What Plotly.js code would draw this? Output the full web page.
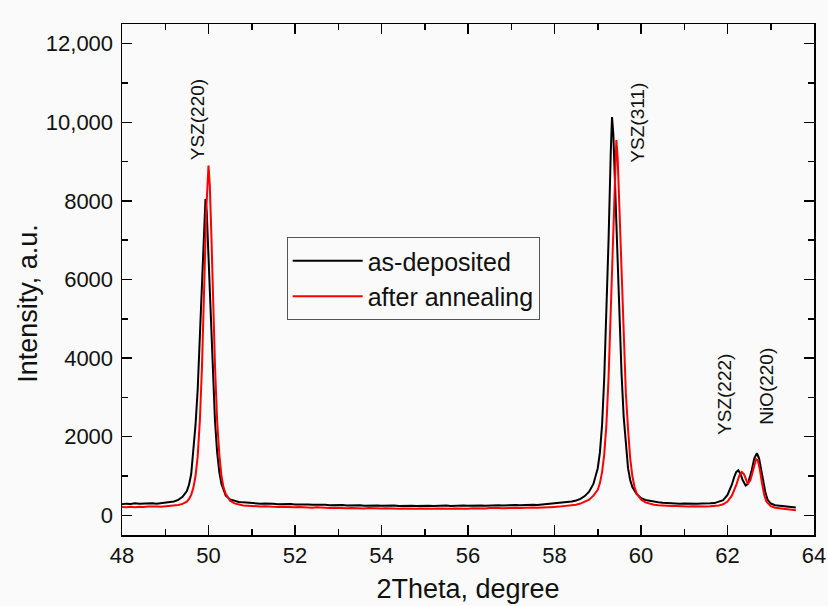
<!DOCTYPE html>
<html>
<head>
<meta charset="utf-8">
<script src="https://cdn.plot.ly/plotly-3.0.1.min.js"></script>
<style>html,body{margin:0;padding:0;background:#fafafa;overflow:hidden;}#chart{width:828px;height:606px;}</style>
</head>
<body>
<div id="chart"></div>
<script>
// as-deposited (black)
const depX = [48.0,48.1,48.2,48.3,48.4,48.5,48.6,48.7,48.8,48.9,49.0,49.1,49.2,49.3,49.4,49.5,49.55,49.6,49.65,49.7,49.75,49.8,49.85,49.9,49.93,49.96,50.0,50.05,50.1,50.15,50.2,50.25,50.3,50.35,50.4,50.5,50.6,50.7,
50.8,50.9,51.0,51.1,51.2,51.3,51.4,51.5,51.6,51.7,51.8,51.9,52.0,52.1,52.2,52.3,52.4,52.5,52.6,52.7,52.8,52.9,53.0,53.1,53.2,53.3,53.4,53.5,53.6,53.7,53.8,53.9,54.0,54.1,54.2,54.3,54.4,54.5,54.6,54.7,54.8,54.9,55.0,55.1,55.2,55.3,55.4,55.5,55.6,55.7,55.8,55.9,56.0,56.1,56.2,56.3,56.4,56.5,56.6,56.7,56.8,56.9,57.0,57.1,57.2,57.3,57.4,57.5,57.6,57.7,57.8,57.9,58.0,
58.1,58.2,58.3,58.4,58.5,58.6,58.7,58.8,58.9,59.0,59.05,59.1,59.15,59.2,59.25,59.3,59.33,59.36,59.4,59.45,59.5,59.55,59.6,59.65,59.7,59.75,59.8,59.9,60.0,60.1,60.2,60.3,60.4,60.5,60.6,60.7,60.8,60.9,61.0,61.1,61.2,61.3,61.4,61.5,61.6,61.7,61.8,61.9,62.0,62.05,62.1,62.15,62.2,62.25,62.3,62.35,62.42,62.47,62.55,62.62,62.68,62.73,62.78,62.83,62.88,62.93,63.0,63.1,63.2,63.3,63.4,63.5,63.58];
const depY = [285,298,290,305,294,302,291,306,297,310,318,332,352,395,470,620,780,1050,1600,2300,3200,4500,6000,7500,8050,7700,6600,5000,3500,2400,1600,1100,800,620,500,405,368,342,
330,318,312,305,298,303,290,296,285,291,280,287,276,282,270,278,268,274,262,270,259,266,255,263,252,260,249,257,246,254,244,252,242,250,240,249,238,247,237,246,236,245,238,247,236,246,237,248,239,247,240,250,241,251,243,252,245,255,247,257,250,259,253,262,256,266,260,270,265,276,272,284,290,
305,318,332,352,378,420,490,600,800,1200,1600,2300,3500,5100,7000,9200,10130,9700,8400,6800,5100,3600,2500,1750,1200,900,720,540,440,390,365,342,332,320,312,305,310,298,304,295,302,293,300,296,305,312,340,385,520,640,780,960,1100,1145,1060,900,760,800,1100,1450,1580,1450,1150,820,560,390,300,258,245,235,228,212,198];

// after annealing (red)
const annX = [48.0,48.1,48.2,48.3,48.4,48.5,48.6,48.7,48.8,48.9,49.0,49.1,49.2,49.3,49.4,49.5,49.55,49.6,49.65,49.7,49.75,49.8,49.85,49.9,49.95,50.0,50.03,50.07,50.1,50.15,50.2,50.25,50.3,50.35,50.4,50.5,50.6,50.7,50.8,50.9,51.0,
51.1,51.2,51.3,51.4,51.5,51.6,51.7,51.8,51.9,52.0,52.1,52.2,52.3,52.4,52.5,52.6,52.7,52.8,52.9,53.0,53.1,53.2,53.3,53.4,53.5,53.6,53.7,53.8,53.9,54.0,54.1,54.2,54.3,54.4,54.5,54.6,54.7,54.8,54.9,55.0,55.1,55.2,55.3,55.4,55.5,55.6,55.7,55.8,55.9,56.0,56.1,56.2,56.3,56.4,56.5,56.6,56.7,56.8,56.9,57.0,57.1,57.2,57.3,57.4,57.5,57.6,57.7,57.8,57.9,
58.0,58.1,58.2,58.3,58.4,58.5,58.6,58.7,58.8,58.9,59.0,59.05,59.1,59.15,59.2,59.25,59.3,59.35,59.4,59.43,59.46,59.5,59.55,59.6,59.65,59.7,59.75,59.8,59.85,59.9,60.0,60.1,60.2,60.3,60.4,60.5,60.6,60.7,60.8,60.9,61.0,61.1,61.2,61.3,61.4,61.5,61.6,61.7,61.8,61.9,62.0,62.1,62.2,62.27,62.33,62.38,62.43,62.47,62.53,62.6,62.66,62.7,62.75,62.8,62.85,62.9,63.0,63.1,63.2,63.3,63.4,63.5,63.58];
const annY = [212,205,218,208,220,210,222,214,224,218,226,232,242,262,292,350,420,520,700,1000,1500,2400,3800,5700,7800,8900,8400,7000,5700,3800,2400,1550,1000,700,540,370,305,272,250,245,236,
232,226,230,219,225,214,220,210,216,205,211,200,207,196,203,192,199,188,195,184,191,181,188,178,186,176,184,174,182,172,180,170,179,168,177,167,176,166,175,167,176,166,175,167,177,168,177,169,179,170,180,172,182,174,184,176,186,179,189,182,192,185,195,189,199,194,204,200,210,
215,222,230,240,255,272,300,340,400,500,650,820,1100,1550,2300,3500,5200,7300,9000,9550,9100,7900,6100,4400,3100,2200,1450,1000,720,560,400,330,295,272,260,250,242,236,240,230,234,226,232,224,230,226,232,238,252,280,350,500,760,1000,1100,1050,880,800,900,1200,1430,1400,1150,800,520,350,232,195,178,165,152,140,130];

const seriesNames = ['as-deposited', 'after annealing'];
const yTickVals = [0, 2000, 4000, 6000, 8000, 10000, 12000];
const yTickText = ['0', '2000', '4000', '6000', '8000', '10,000', '12,000'];
const xTickVals = [48, 50, 52, 54, 56, 58, 60, 62, 64];
const peakLabels = ['YSZ(220)', 'YSZ(311)', 'YSZ(222)', 'NiO(220)'];
const peakLabelX = [49.75, 59.93, 61.93, 62.9];
const peakLabelY = [10070, 9990, 3076, 3280];
const xTitle = '2Theta, degree';
const yTitle = 'Intensity, a.u.';

const FONT = 'Liberation Sans, Arial, sans-serif';
const TXT = '#111111';

const traces = [
  {x: depX, y: depY, name: seriesNames[0], type: 'scatter', mode: 'lines', line: {color: '#000000', width: 2}},
  {x: annX, y: annY, name: seriesNames[1], type: 'scatter', mode: 'lines', line: {color: '#ff0000', width: 2}}
];

const annotations = peakLabels.map((t, i) => ({
  x: peakLabelX[i], y: peakLabelY[i], xref: 'x', yref: 'y', text: t, showarrow: false,
  textangle: -90, font: {family: FONT, size: 19, color: TXT}
}));
// y-axis title (drawn as a rotated label so it sits where the original places it)
annotations.push({
  x: -0.137, y: 0.453, xref: 'paper', yref: 'paper', text: yTitle, showarrow: false,
  textangle: -90, xanchor: 'center', yanchor: 'middle',
  font: {family: FONT, size: 27, color: TXT}
});

const axisCommon = {
  showline: true, linecolor: '#000000', linewidth: 1.5, mirror: 'allticks',
  ticks: 'inside', ticklen: 10, tickwidth: 1.5, tickcolor: '#000000',
  showgrid: false, zeroline: false, ticklabeloverflow: 'allow',
  tickfont: {family: FONT, size: 22, color: TXT}
};

const layout = {
  width: 828, height: 606,
  margin: {l: 122, r: 14, t: 24, b: 71},
  paper_bgcolor: '#fafafa', plot_bgcolor: '#fafafa',
  showlegend: true,
  legend: {
    x: 0.238, y: 0.583, xanchor: 'left', yanchor: 'top',
    bgcolor: '#fafafa', bordercolor: '#555555', borderwidth: 1,
    font: {family: FONT, size: 25, color: TXT},
    itemwidth: 70, tracegroupgap: 0
  },
  xaxis: Object.assign({}, axisCommon, {
    range: [48, 64], tickvals: xTickVals, ticktext: xTickVals.map(String),
    minor: {dtick: 1, ticks: 'inside', ticklen: 6, tickwidth: 1.5, tickcolor: '#000000'},
    title: {text: xTitle, font: {family: FONT, size: 27, color: TXT}, standoff: 12}
  }),
  yaxis: Object.assign({}, axisCommon, {
    range: [-500, 12500], tickvals: yTickVals, ticktext: yTickText,
    ticklabelstandoff: 3,
    minor: {dtick: 1000, tick0: 0, ticks: 'inside', ticklen: 6, tickwidth: 1.5, tickcolor: '#000000'}
  }),
  annotations: annotations
};

Plotly.newPlot('chart', traces, layout, {displayModeBar: false, staticPlot: true});
</script>
</body>
</html>
